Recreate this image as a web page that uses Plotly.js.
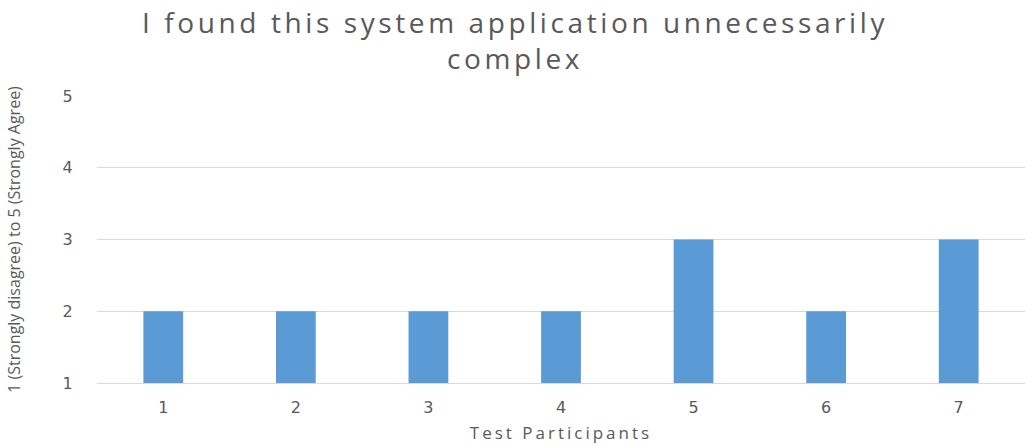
<!DOCTYPE html>
<html><head><meta charset="utf-8">
<script src="https://cdn.plot.ly/plotly-3.0.1.min.js"></script>
<style>
body{margin:0;background:#fff}#c{width:1029px;height:444px}
#c .annotation-text{letter-spacing:3.6px}
#c .g-xtitle text{letter-spacing:3px}
#c .xtick text{letter-spacing:0}
</style>
</head><body><div id="c"></div>
<script>
const participants = ["1","2","3","4","5","6","7"];
const scores = [2,2,2,2,3,2,3];
const yTicks = [1,2,3,4,5];
const titleText = "I found this system application unnecessarily<br>complex";
const xTitle = "Test Participants";
const yTitle = "1 (Strongly disagree) to 5 (Strongly Agree)";

Plotly.newPlot("c", [{
  type: "bar", x: participants, y: scores,
  marker: {color: "#5B9BD5"}, width: 0.3, hoverinfo: "none"
}], {
  width: 1029, height: 444,
  margin: {l: 97, r: 4, t: 96, b: 61},
  paper_bgcolor: "#fff", plot_bgcolor: "#fff",
  font: {family: "Open Sans, sans-serif", color: "#595959"},
  annotations: [{text: titleText, xref: "paper", yref: "paper", x: 0.4515, y: 1.06,
    xanchor: "center", yanchor: "bottom", showarrow: false,
    font: {size: 28, color: "#595959", family: "Open Sans, sans-serif"}}],
  xaxis: {type: "category", showgrid: false, showline: true, linecolor: "#d9d9d9",
          ticks: "outside", ticklen: 10, tickcolor: "rgba(0,0,0,0)",
          tickfont: {size: 16, color: "#595959", family: "DejaVu Sans, sans-serif"},
          title: {text: xTitle, font: {size: 17, color: "#595959"}, standoff: 12}},
  yaxis: {range: [1, 5], tickvals: yTicks, showgrid: true, gridcolor: "#d9d9d9",
          zeroline: false, showline: false,
          ticks: "outside", ticklen: 20, tickcolor: "rgba(0,0,0,0)",
          tickfont: {size: 16, color: "#595959", family: "DejaVu Sans, sans-serif"},
          title: {text: yTitle, font: {size: 16, color: "#595959"}, standoff: 38}},
  showlegend: false, bargap: 0.7
}, {staticPlot: true});
</script></body></html>
